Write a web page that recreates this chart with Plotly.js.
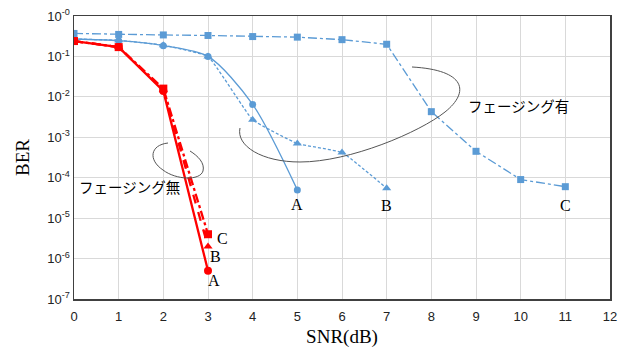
<!DOCTYPE html>
<html><head><meta charset="utf-8">
<script src="https://cdn.plot.ly/plotly-3.0.1.min.js"></script>
<style>html,body{margin:0;padding:0;background:#fff}#chart{width:633px;height:350px}</style>
</head><body><div id="chart"></div>
<script>
// Data
const snrFadA = [0,1,2,3,4,5];
const berFadA = [0.27,0.245,0.185,0.1,0.0065,5e-5];
const snrFadB = [0,1,2,3,4,5,6,7];
const berFadB = [0.27,0.25,0.19,0.1,0.0027,7e-4,4.2e-4,5.5e-5];
const snrFadC = [0,1,2,3,4,5,6,7,8,9,10,11];
const berFadC = [0.37,0.35,0.34,0.33,0.31,0.3,0.26,0.2,0.0043,4.5e-4,9e-5,6e-5];
const snrNoA = [0,1,2,3];
const berNoA = [0.24,0.17,0.014,5e-7];
const snrNoB = [0,1,2,3];
const berNoB = [0.24,0.17,0.015,2e-6];
const snrNoC = [0,1,2,3];
const berNoC = [0.24,0.17,0.016,4e-6];
const yTickVals = [1,1e-1,1e-2,1e-3,1e-4,1e-5,1e-6,1e-7];
const yTickText = ['10<sup>-0</sup>','10<sup>-1</sup>','10<sup>-2</sup>','10<sup>-3</sup>','10<sup>-4</sup>','10<sup>-5</sup>','10<sup>-6</sup>','10<sup>-7</sup>'];
const labelFad = 'フェージング有';
const labelNo = 'フェージング無';

const blue = '#5B9BD5', red = '#FF0000';
const traces = [
 {x:snrFadC,y:berFadC,mode:'lines+markers',line:{color:blue,width:1.3,dash:'dashdot'},marker:{symbol:'square',size:7,color:blue}},
 {x:snrFadB,y:berFadB,mode:'lines+markers',line:{color:blue,width:1.3,dash:'3px,2px',shape:'spline',smoothing:0.3},marker:{symbol:'triangle-up',size:8,color:blue}},
 {x:snrFadA,y:berFadA,mode:'lines+markers',line:{color:blue,width:1.3,shape:'spline',smoothing:0.8},marker:{symbol:'circle',size:7,color:blue}},
 {x:snrNoC,y:berNoC,mode:'lines+markers',line:{color:red,width:2.3,dash:'dashdot'},marker:{symbol:'square',size:8,color:red}},
 {x:snrNoB,y:berNoB,mode:'lines+markers',line:{color:red,width:2.3,dash:'dash'},marker:{symbol:'triangle-up',size:8,color:red}},
 {x:snrNoA,y:berNoA,mode:'lines+markers',line:{color:red,width:2.3},marker:{symbol:'circle',size:8,color:red}}
];

// pixel->paper helpers for annotation shapes
const L=74,R=610,T=16,B=299;
const px = v => ((v-L)/(R-L)).toFixed(4);
const py = v => ((B-v)/(B-T)).toFixed(4);
function path(pts){
  return pts.map(p=>{const c=p[0];const n=p.slice(1);let s=c;for(let i=0;i<n.length;i+=2){s+=' '+px(n[i])+','+py(n[i+1]);}return s;}).join(' ');
}
const bigArc = path([['M',240,128],['C',236,146,262,162,300,162],['C',350,162,420,132,445,112],['C',470,92,466,70,412,67]]);
const smallEll = path([['M',168,143],['C',150,145,148,160,163,170],['C',176,180,200,181,203,171],['C',205,163,198,156,190,151]]);

const serif = 'Liberation Serif, Times New Roman, serif';
const lg = v=>Math.log10(v);
const ann = [
 {x:5,y:lg(berFadA[5]),text:'A',yshift:-15},
 {x:7,y:lg(berFadB[7]),text:'B',yshift:-17},
 {x:11,y:lg(berFadC[11]),text:'C',yshift:-19},
 {x:3,y:lg(berNoC[3]),text:'C',xshift:14,yshift:-4},
 {x:3,y:lg(berNoB[3]),text:'B',xshift:7,yshift:-10},
 {x:3,y:lg(berNoA[3]),text:'A',xshift:6,yshift:-10}
].map(a=>Object.assign({xref:'x',yref:'y',showarrow:false,font:{family:serif,size:16,color:'#000'}},a));
ann.push({xref:'paper',yref:'paper',x:px(466),y:py(106),xanchor:'left',yanchor:'middle',text:labelFad,showarrow:false,font:{family:'Noto Sans CJK JP',size:14.5,color:'#000'}});
ann.push({xref:'paper',yref:'paper',x:px(77),y:py(187),xanchor:'left',yanchor:'middle',text:labelNo,showarrow:false,font:{family:'Noto Sans CJK JP',size:14.5,color:'#000'}});

const layout = {
 width:633,height:350,margin:{l:L,r:633-R,t:T,b:350-B},
 paper_bgcolor:'#fff',plot_bgcolor:'#fff',showlegend:false,
 xaxis:{range:[0,12],dtick:1,tick0:0,showgrid:true,gridcolor:'#d9d9d9',zeroline:false,showline:true,linecolor:'#404040',linewidth:1.5,mirror:true,ticks:'outside',ticklen:5,tickcolor:'rgba(0,0,0,0)',
   tickfont:{family:'Liberation Sans, Arial',size:13,color:'#222'},
   title:{text:'SNR(dB)',font:{family:serif,size:19,color:'#000'},standoff:6}},
 yaxis:{type:'log',range:[-7,0],tickmode:'array',tickvals:yTickVals,ticktext:yTickText,showgrid:true,gridcolor:'#d9d9d9',zeroline:false,showline:true,linecolor:'#404040',linewidth:1.5,mirror:true,ticks:'',
   tickfont:{family:'Liberation Sans, Arial',size:13,color:'#222'},
   title:{text:'BER',font:{family:serif,size:19,color:'#000'},standoff:12}},
 annotations:ann,
 shapes:[
  {type:'path',xref:'paper',yref:'paper',path:bigArc,line:{color:'#555',width:1}},
  {type:'path',xref:'paper',yref:'paper',path:smallEll,line:{color:'#555',width:1}}
 ]
};
Plotly.newPlot('chart',traces,layout,{displayModeBar:false,staticPlot:true});
</script></body></html>
